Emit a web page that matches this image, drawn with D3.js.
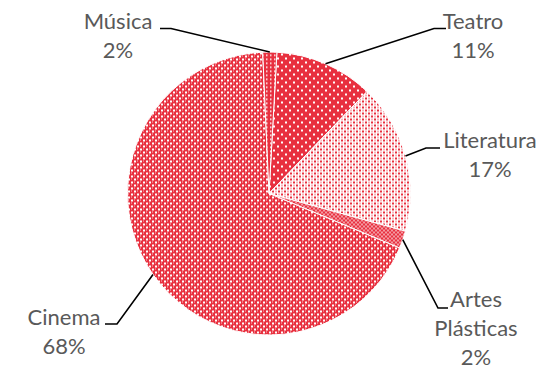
<!DOCTYPE html>
<html>
<head>
<meta charset="utf-8">
<script src="https://cdn.jsdelivr.net/npm/d3@7"></script>
<style>
  html, body { margin: 0; padding: 0; background: #fff; }
  svg { display: block; }
</style>
</head>
<body>
<svg id="chart" width="539" height="366"></svg>
<script>
// ---- data ----
const categories = ["Teatro", "Literatura", "Artes Plásticas", "Cinema", "Música"];
const values = [11.3, 17.1, 2.0, 68.0, 1.6];
const labelLines = [["Teatro"], ["Literatura"], ["Artes", "Plásticas"], ["Cinema"], ["Música"]];

// ---- layout ----
const W = 539, H = 366;
const cx = 269, cy = 193.5, R = 141.5;
const startDeg = 3.2;
const RED = "#e8303f";
const fontSize = 22, lineH = 29;
// label text anchor (center x, first baseline y) and leader elbow points
const labelLayout = {
  "Teatro":          { x: 473, y: 29,  elbow: [[446, 28.5], [434, 28.5]] },
  "Literatura":      { x: 490, y: 148, elbow: [[440, 148], [426, 148]] },
  "Artes Plásticas": { x: 476, y: 307, elbow: [[448, 308], [438, 308]] },
  "Cinema":          { x: 64,  y: 325, elbow: [[105, 324], [117, 324]] },
  "Música":          { x: 118, y: 29,  elbow: [[160, 28.5], [171, 28.5]] }
};

const svg = d3.select("#chart");
svg.append("rect").attr("width", W).attr("height", H).attr("fill", "#fff");

// ---- patterns ----
const defs = svg.append("defs");
function pattern(id, size, bg, cells) {
  const p = defs.append("pattern").attr("id", id)
    .attr("patternUnits", "userSpaceOnUse")
    .attr("width", size).attr("height", size);
  p.append("rect").attr("width", size).attr("height", size).attr("fill", bg);
  cells.forEach(c => p.append("rect").attr("x", c[0]).attr("y", c[1])
    .attr("width", c[2]).attr("height", c[3]).attr("fill", c[4]));
}
const PINK = "#f49ba3";
pattern("p0", 8, RED, [[0, 0, 2, 2, "#fff"], [4, 4, 2, 2, "#fff"]]);
pattern("p1", 6, "#fff", [[0, 0, 2, 2, RED], [3, 3, 2, 2, RED], [0, 3, 2, 2, "#f7b4ba"], [3, 0, 2, 2, "#f7b4ba"]]);
pattern("p2", 4, PINK, [[0, 0, 2, 2, RED], [2, 2, 2, 2, RED]]);
pattern("p3", 6, RED, [[0, 0, 2, 2, "#fff"], [3, 3, 2, 2, "#fff"], [0, 3, 1, 1, "#f8c4c8"], [3, 0, 1, 1, "#f8c4c8"]]);
pattern("p4", 4, RED, [[1, 1, 1.5, 1.5, "#fff"]]);

// ---- pie ----
const pie = d3.pie().sort(null).value(d => d)
  .startAngle(startDeg * Math.PI / 180)
  .endAngle(startDeg * Math.PI / 180 + 2 * Math.PI);
const arcs = pie(values);
const arc = d3.arc().innerRadius(0).outerRadius(R);

const g = svg.append("g").attr("transform", `translate(${cx},${cy})`);
g.selectAll("path.slice").data(arcs).enter().append("path")
  .attr("class", "slice")
  .attr("d", arc)
  .attr("fill", (d, i) => `url(#p${i})`)
  .attr("stroke", "#fff").attr("stroke-width", 1);

// ---- labels & leaders ----
const total = d3.sum(values);
const fmt = d3.format(".0%");
arcs.forEach((a, i) => {
  const name = categories[i];
  const L = labelLayout[name];
  const mid = (a.startAngle + a.endAngle) / 2;
  const px = cx + R * Math.sin(mid), py = cy - R * Math.cos(mid);
  const pts = [L.elbow[0], L.elbow[1], [px, py]];
  svg.append("path")
    .attr("d", d3.line()(pts))
    .attr("fill", "none").attr("stroke", "#000").attr("stroke-width", 1.6);
  const lines = labelLines[i].concat([fmt(values[i] / total)]);
  const t = svg.append("text")
    .attr("text-anchor", "middle")
    .attr("font-family", "Lato, 'Open Sans', sans-serif")
    .attr("font-size", fontSize)
    .attr("fill", "#595959");
  lines.forEach((s, k) => t.append("tspan").attr("x", L.x).attr("y", L.y + k * lineH).text(s));
});
</script>
</body>
</html>
